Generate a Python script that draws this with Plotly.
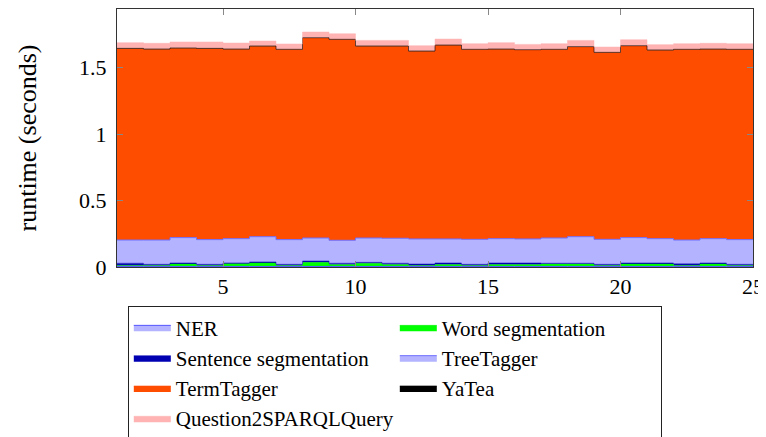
import plotly.graph_objects as go

x = list(range(1, 26))

ner = [0.004] * 25
word_seg = [0.008, 0.008, 0.018, 0.008, 0.021, 0.026, 0.008, 0.031, 0.014, 0.024, 0.014, 0.008,
            0.014, 0.008, 0.014, 0.014, 0.018, 0.018, 0.008, 0.018, 0.018, 0.008, 0.018, 0.008, 0.008]
sentence_seg = [0.016, 0.008, 0.008, 0.008, 0.005, 0.008, 0.008, 0.010, 0.010, 0.007, 0.010, 0.010,
                0.012, 0.008, 0.012, 0.012, 0.006, 0.006, 0.008, 0.008, 0.008, 0.013, 0.008, 0.008, 0.008]
treetagger = [0.175, 0.183, 0.191, 0.186, 0.183, 0.190, 0.186, 0.173, 0.173, 0.183, 0.188, 0.189,
              0.181, 0.188, 0.183, 0.181, 0.190, 0.200, 0.188, 0.191, 0.183, 0.178, 0.183, 0.186, 0.186]
termtagger = [1.439, 1.434, 1.424, 1.436, 1.424, 1.432, 1.429, 1.504, 1.509, 1.442, 1.444, 1.411,
              1.456, 1.427, 1.424, 1.421, 1.417, 1.427, 1.404, 1.441, 1.417, 1.432, 1.424, 1.429, 1.429]
yatea = [0.002] * 25
q2s = [0.043, 0.043, 0.045, 0.048, 0.045, 0.037, 0.040, 0.043, 0.042, 0.042, 0.042, 0.040,
       0.045, 0.042, 0.048, 0.040, 0.042, 0.047, 0.040, 0.045, 0.040, 0.042, 0.043, 0.042, 0.042]

series = [
    ("NER", ner, "#b3b3ff", "#5555ff", 1.0),
    ("Word segmentation", word_seg, "#00ff00", "#00ee00", 0.5),
    ("Sentence segmentation", sentence_seg, "#0000b3", "#0000b3", 0.5),
    ("TreeTagger", treetagger, "#b3b3ff", "#6f6fff", 1.0),
    ("TermTagger", termtagger, "#ff4d00", "#ff4d00", 0.5),
    ("YaTea", yatea, "#000000", "#000000", 0.6),
    ("Question2SPARQLQuery", q2s, "#ffb3b3", "#ffb3b3", 0.5),
]

FONT = "Liberation Serif"

fig = go.Figure()
for name, vals, fill, line, lw in series:
    fig.add_trace(go.Scatter(
        x=x, y=vals, name=name, mode="lines", stackgroup="one",
        line=dict(shape="hv", color=line, width=lw),
        fillcolor=fill,
    ))

# the page body has an 8px margin, so the figure is sized to fit inside the window
fig.update_layout(
    width=758, height=429,
    margin=dict(l=109, r=13, t=1, b=170, autoexpand=False),
    paper_bgcolor="white", plot_bgcolor="white",
    font=dict(family=FONT, size=22, color="black"),
    showlegend=True,
    legend=dict(
        orientation="h", x=0.017, xanchor="left", y=-0.152, yanchor="top",
        bordercolor="#222222", borderwidth=1, bgcolor="white",
        entrywidth=214, entrywidthmode="pixels",
        itemwidth=37, traceorder="normal",
        font=dict(family=FONT, size=21),
    ),
)
fig.update_xaxes(
    range=[1, 25], tickvals=[5, 10, 15, 20, 25],
    showgrid=False, zeroline=False,
    showline=True, linecolor="#333333", linewidth=1, mirror="ticks",
    ticks="inside", ticklen=6, tickcolor="#888888", tickwidth=1,
    ticklabelstandoff=0, ticklabeloverflow="allow",
    tickfont=dict(family=FONT, size=22),
)
fig.update_yaxes(
    range=[0, 1.94], tickvals=[0, 0.5, 1, 1.5], ticktext=["0", "0.5", "1", "1.5"],
    showgrid=False, zeroline=False,
    showline=True, linecolor="#333333", linewidth=1, mirror="ticks",
    ticks="inside", ticklen=6, tickcolor="#888888", tickwidth=1,
    ticklabelstandoff=5, tickfont=dict(family=FONT, size=22),
    title=dict(text="runtime (seconds)", standoff=34, font=dict(family=FONT, size=26)),
)

fig.write_html("out.html")
